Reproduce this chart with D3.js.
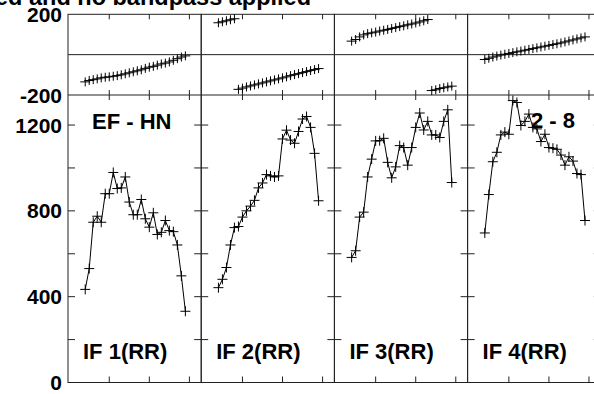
<!DOCTYPE html>
<html><head><meta charset="utf-8">
<script src="https://cdn.jsdelivr.net/npm/d3@7"></script>
<style>
html,body{margin:0;padding:0;background:#fff;overflow:hidden}
svg text{font-family:"Liberation Sans",Arial,Helvetica,sans-serif;font-weight:bold;fill:#000}
</style></head>
<body><svg id="c" width="594" height="394"></svg>
<script>
// ---------- data ----------
const channels = [4,5,6,7,8,9,10,11,12,13,14,15,16,17,18,19,20,21,22,23,24,25,26,27,28,29];
const panelLabels = ["IF 1(RR)","IF 2(RR)","IF 3(RR)","IF 4(RR)"];
const title = "Calibrated and no bandpass applied";
const baselineLabel = "EF - HN";
const rangeLabel = "2 - 8";
const ampIF1 = [434,531,747,775,747,880,880,979,904,907,958,841,782,782,853,763,724,791,690,700,755,708,703,641,497,332];
const ampIF2 = [442,481,536,641,722,727,771,800,822,849,907,930,969,963,958,963,1135,1176,1130,1115,1170,1228,1240,1189,1068,847];
const ampIF3 = [583,614,771,794,958,1041,1126,1127,1138,1026,954,1005,1104,1095,1013,1095,1189,1256,1177,1217,1154,1154,1142,1217,1271,932];
const ampIF4 = [697,876,1029,1073,1154,1167,1157,1314,1305,1198,1217,1251,1189,1182,1123,1157,1095,1092,1087,1060,1013,1052,1032,974,969,755];
const phaseIF1 = [-135,-128,-124,-120,-115,-112,-110,-107,-104,-100,-95,-90,-85,-80,-75,-68,-62,-58,-52,-46,-42,-36,-28,-20,-12,-6];
const phaseIF2 = [158,163,168,173,178,-172,-166,-160,-155,-150,-145,-140,-135,-130,-125,-120,-115,-110,-104,-99,-94,-89,-84,-79,-74,-69];
const phaseIF3 = [67,75,88,98,104,108,112,117,121,125,130,134,139,143,148,152,157,162,168,174,-178,-174,-168,-164,-160,-156];
const phaseIF4 = [-24,-18,-12,-7,-2,2,6,10,14,18,22,26,30,34,38,42,46,50,54,58,63,68,73,78,83,88];
const phaseTickLabels = [200,-200];
const ampTicks = [0,200,400,600,800,1000,1200];
const ampTickLabels = [0,400,800,1200];
const xTicks = [10,20,30];

const amps = [ampIF1,ampIF2,ampIF3,ampIF4];
const phases = [phaseIF1,phaseIF2,phaseIF3,phaseIF4];

// ---------- layout ----------
const svg = d3.select("#c");
const left = 68, pw = 133.2;
const yP = d3.scaleLinear().domain([-200,200]).range([95,14.3]);
const yA = d3.scaleLinear().domain([0,1340]).range([382.5,95]);
const xIn = d3.scaleLinear().domain([-0.3,32.95]).range([0,pw]);
const frame = "#222";

// title
svg.append("text").attr("x",311).attr("y",5).attr("text-anchor","end")
  .style("font-size","23.5px").text(title);

// y labels
phaseTickLabels.forEach(v=>{
  svg.append("text").attr("x",62).attr("y",yP(v)).attr("text-anchor","end")
    .attr("dominant-baseline","central").style("font-size","21px").text(v);
});
ampTickLabels.forEach(v=>{
  svg.append("text").attr("x",62).attr("y",yA(v)).attr("text-anchor","end")
    .attr("dominant-baseline","central").style("font-size","21px").text(v);
});

const cross = (g, pts, hw, hh) => {
  pts.forEach(p=>{
    g.append("line").attr("x1",p[0]-hw).attr("x2",p[0]+hw).attr("y1",p[1]).attr("y2",p[1])
      .attr("stroke","#000").attr("stroke-width",1);
    g.append("line").attr("x1",p[0]).attr("x2",p[0]).attr("y1",p[1]-hh).attr("y2",p[1]+hh)
      .attr("stroke","#000").attr("stroke-width",1);
  });
};

for (let i=0;i<4;i++){
  const x0 = left + i*pw;
  const x = d => x0 + xIn(d);
  const g = svg.append("g");

  // zero line of phase strip
  g.append("line").attr("x1",x0).attr("x2",x0+pw).attr("y1",yP(0)).attr("y2",yP(0))
    .attr("stroke",frame).attr("stroke-width",1);

  // x ticks
  xTicks.forEach(t=>{
    const xx = x(t);
    [[yP(200),yP(200)+5],[yP(-200)-5,yP(-200)+5],[yA(0)-6,yA(0)]].forEach(s=>{
      g.append("line").attr("x1",xx).attr("x2",xx).attr("y1",s[0]).attr("y2",s[1])
        .attr("stroke",frame).attr("stroke-width",1);
    });
  });
  // y ticks (both sides)
  ampTicks.forEach(t=>{
    const yy = yA(t);
    g.append("line").attr("x1",x0).attr("x2",x0+7).attr("y1",yy).attr("y2",yy).attr("stroke",frame);
    g.append("line").attr("x1",x0+pw-7).attr("x2",x0+pw).attr("y1",yy).attr("y2",yy).attr("stroke",frame);
  });

  // frames
  g.append("rect").attr("x",x0).attr("y",yP(200)).attr("width",pw).attr("height",yA(0)-yP(200))
    .attr("fill","none").attr("stroke",frame).attr("stroke-width",1);
  g.append("line").attr("x1",x0).attr("x2",x0+pw).attr("y1",yP(-200)).attr("y2",yP(-200))
    .attr("stroke",frame).attr("stroke-width",1);

  // amplitude line + markers
  const pts = channels.map((c,k)=>[x(c), yA(amps[i][k])]);
  g.append("path").attr("d", d3.line()(pts)).attr("fill","none").attr("stroke","#000").attr("stroke-width",1);
  cross(g, pts, 5, 5);

  // phase markers
  const ppts = channels.map((c,k)=>[x(c), yP(phases[i][k])]);
  cross(g, ppts, 5, 4.5);

  // panel label
  svg.append("text").attr("x",x0+15).attr("y",359).style("font-size","22px").text(panelLabels[i]);
}

svg.append("text").attr("x",92).attr("y",128.5).style("font-size","22px").text(baselineLabel);
svg.append("text").attr("x",531).attr("y",127.5).style("font-size","22px").text(rangeLabel);
</script></body></html>
